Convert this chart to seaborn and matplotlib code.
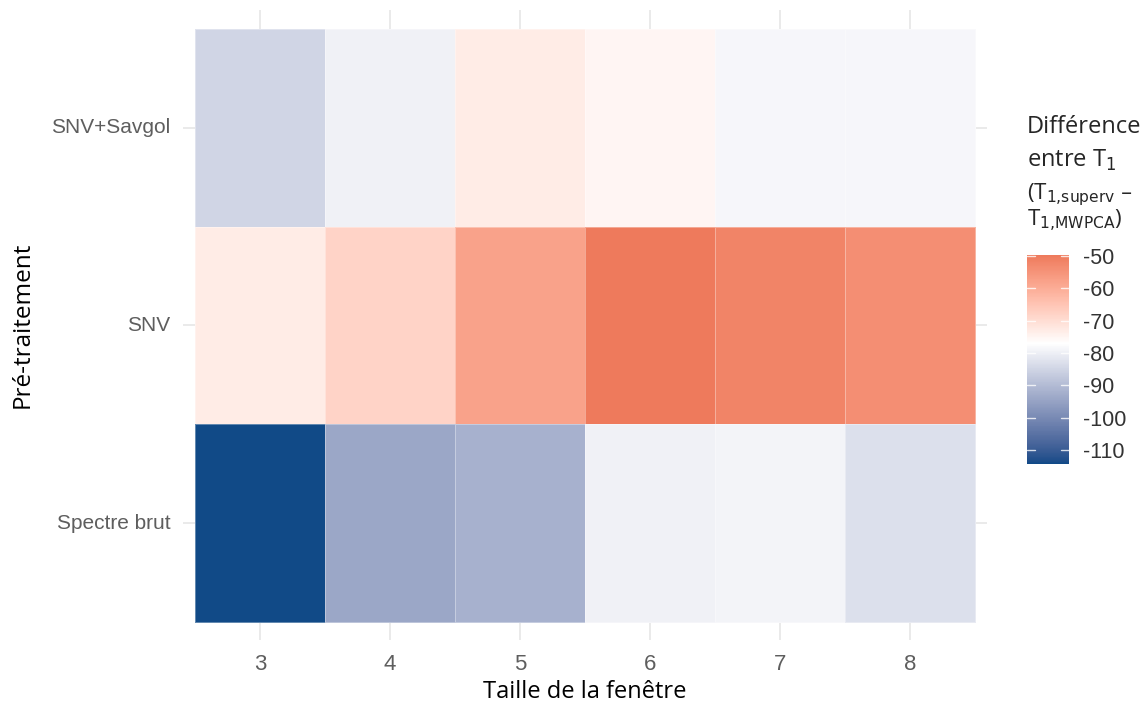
import matplotlib
matplotlib.use("Agg")
import matplotlib.pyplot as plt
import numpy as np
import pandas as pd
import seaborn as sns
from matplotlib.colors import ListedColormap, to_rgb

# data
fenetres = [3, 4, 5, 6, 7, 8]
pretraitements = ["SNV+Savgol", "SNV", "Spectre brut"]
diff_snv_savgol = [-85, -79.5, -73, -75, -78.5, -78.5]
diff_snv = [-73, -68, -58, -50, -52, -54]
diff_brut = [-114, -94, -92, -79.5, -79, -83]
cbar_ticks = [-50, -60, -70, -80, -90, -100, -110]

VMIN, VMAX, VMID = -114.2, -49.8, -77.0
LOW, MID, HIGH = "#114A87", "#FFFFFF", "#EE7A5C"


def _to_lab(c):
    rgb = np.array(to_rgb(c))
    lin = np.where(rgb <= 0.04045, rgb / 12.92, ((rgb + 0.055) / 1.055) ** 2.4)
    m = np.array([[0.4124, 0.3576, 0.1805],
                  [0.2126, 0.7152, 0.0722],
                  [0.0193, 0.1192, 0.9505]])
    xyz = m @ lin / np.array([0.95047, 1.0, 1.08883])
    f = np.where(xyz > 0.008856, np.cbrt(xyz), 7.787 * xyz + 16 / 116)
    return np.array([116 * f[1] - 16, 500 * (f[0] - f[1]), 200 * (f[1] - f[2])])


def _from_lab(lab):
    fy = (lab[0] + 16) / 116
    f = np.array([fy + lab[1] / 500, fy, fy - lab[2] / 200])
    xyz = np.where(f ** 3 > 0.008856, f ** 3, (f - 16 / 116) / 7.787)
    xyz = xyz * np.array([0.95047, 1.0, 1.08883])
    m = np.array([[3.2406, -1.5372, -0.4986],
                  [-0.9689, 1.8758, 0.0415],
                  [0.0557, -0.2040, 1.0570]])
    lin = m @ xyz
    rgb = np.where(lin <= 0.0031308, 12.92 * lin, 1.055 * np.clip(lin, 0, None) ** (1 / 2.4) - 0.055)
    return np.clip(rgb, 0, 1)


def gradient2_cmap(n=256):
    # diverging ramp interpolated in Lab, like ggplot's scale_fill_gradient2
    lo, mi, hi = _to_lab(LOW), _to_lab(MID), _to_lab(HIGH)
    f_mid = (VMID - VMIN) / (VMAX - VMIN)
    cols = []
    for t in np.linspace(0, 1, n):
        if t <= f_mid:
            lab = lo + (mi - lo) * (t / f_mid)
        else:
            lab = mi + (hi - mi) * ((t - f_mid) / (1 - f_mid))
        cols.append(_from_lab(lab))
    return ListedColormap(cols)


sns.set_theme(style="white")
plt.rcParams["font.family"] = ["Open Sans", "DejaVu Sans"]

df = pd.DataFrame([diff_snv_savgol, diff_snv, diff_brut],
                  index=pretraitements, columns=fenetres)

fig = plt.figure(figsize=(11.44, 7.09), dpi=100)
W, H = 1144, 709
ax = fig.add_axes([183 / W, 1 - 640 / H, (987 - 183) / W, (640 - 10) / H])
cax = fig.add_axes([1027 / W, 1 - 464 / H, 42 / W, 209 / H])

sns.heatmap(df, ax=ax, cmap=gradient2_cmap(), vmin=VMIN, vmax=VMAX, cbar=True,
            cbar_ax=cax, linewidths=0.4, linecolor=(1, 1, 1, 0.35))

# panel a bit larger than the tiles, ggplot style
ax.set_xlim(-0.092, 6.092)
ax.set_ylim(3.091, -0.096)
ax.set_axisbelow(True)
ax.grid(True, color="#E6E6E6", linewidth=1.2)
for s in ax.spines.values():
    s.set_visible(False)
ax.tick_params(axis="both", length=0, colors="#5E5E5E")
ax.tick_params(axis="x", pad=10, labelsize=16)
ax.tick_params(axis="y", pad=9, labelsize=15)
ax.set_xticklabels([str(f) for f in fenetres], rotation=0, family=["Liberation Sans"])
ax.set_yticklabels(pretraitements, rotation=0, family=["Liberation Sans"])
ax.set_xlabel("Taille de la fenêtre", fontsize=17, color="black", labelpad=4)
ax.set_ylabel("Pré-traitement", fontsize=17.5, color="black", labelpad=12)

cax.set_yticks(cbar_ticks)
cax.set_yticklabels([str(t) for t in cbar_ticks], family=["Liberation Sans"])
cax.tick_params(axis="y", length=0, colors="#333333", labelsize=15.5, pad=10)
for t in cbar_ticks:
    cax.plot([0, 0.18], [t, t], color="white", lw=1, alpha=0.8,
             transform=cax.get_yaxis_transform())
    cax.plot([0.82, 1.0], [t, t], color="white", lw=1, alpha=0.8,
             transform=cax.get_yaxis_transform())
for s in cax.spines.values():
    s.set_visible(False)

# legend title, Word-style with subscripts
tx = 1027 / W
fig.text(tx, 1 - 133 / H, "Différence", fontsize=17, va="baseline", ha="left")
fig.text(tx, 1 - 167 / H, r"entre T$_\mathrm{1}$", fontsize=17, va="baseline", ha="left",
         math_fontfamily="dejavusans")
fig.text(tx, 1 - 199 / H, r"(T$_\mathrm{1{,}superv}$ –", fontsize=16, va="baseline",
         ha="left", math_fontfamily="dejavusans")
fig.text(tx, 1 - 226 / H, r"T$_\mathrm{1{,}MWPCA}$)", fontsize=16, va="baseline",
         ha="left", math_fontfamily="dejavusans")

fig.savefig("out.png", dpi=100, facecolor="white")
